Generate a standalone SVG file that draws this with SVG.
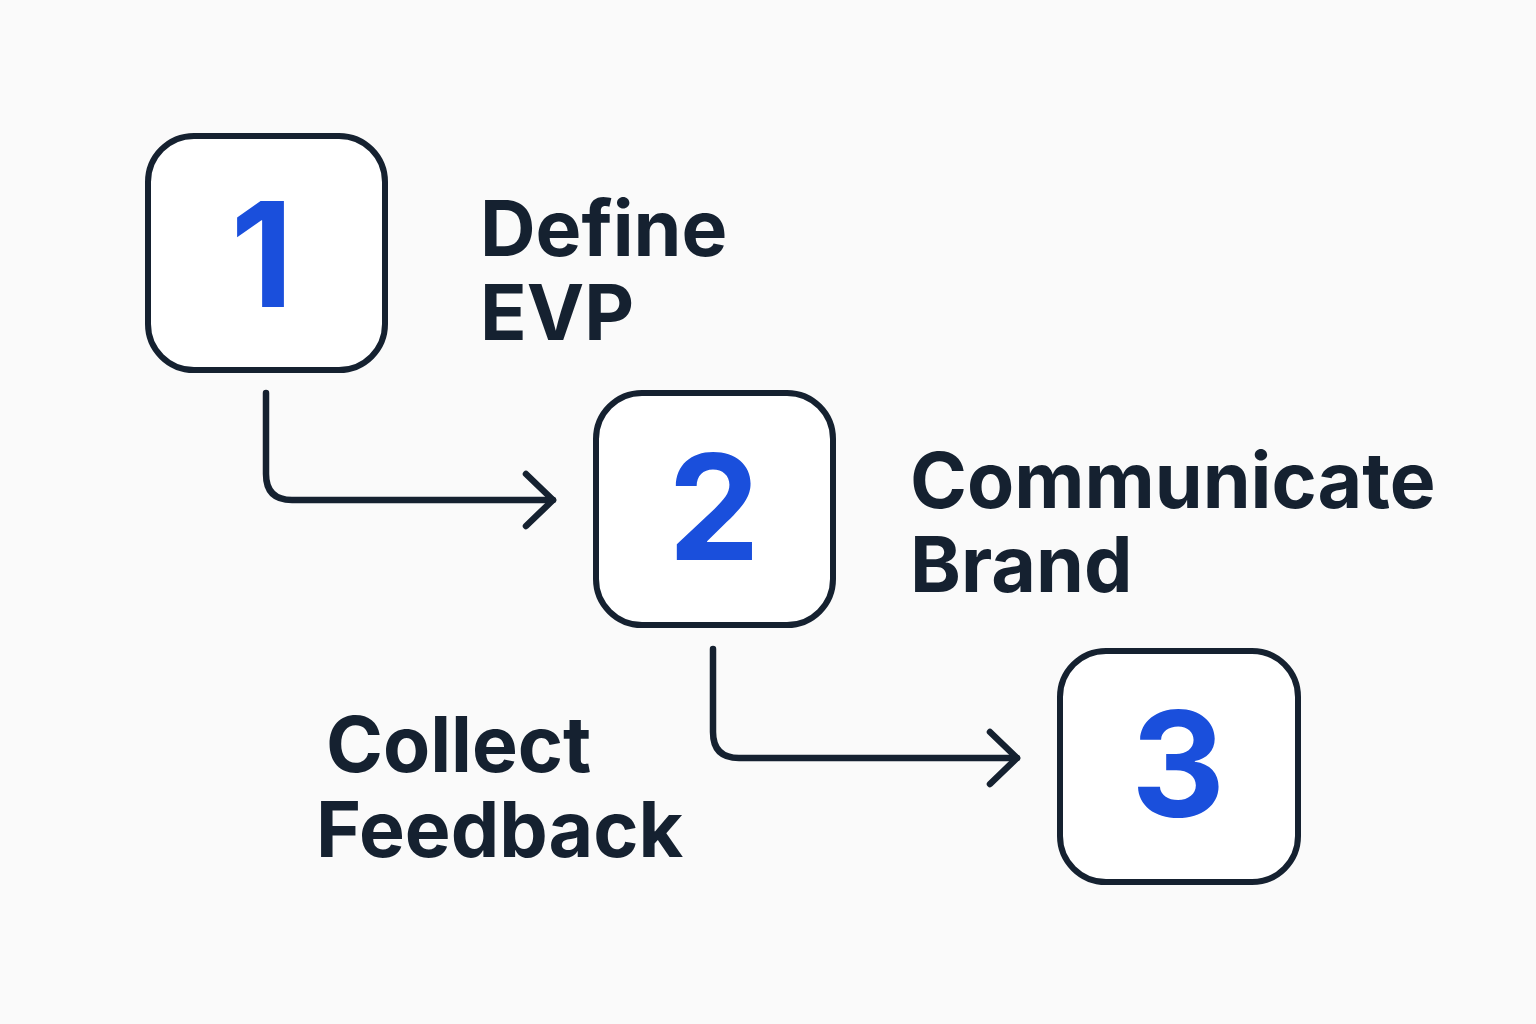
<svg xmlns="http://www.w3.org/2000/svg" width="1536" height="1024" viewBox="0 0 1536 1024">
<style>
.box{fill:#ffffff;stroke:#152130;stroke-width:6}
.num{font-family:Inter,"Liberation Sans",sans-serif;font-weight:700;font-size:146px;fill:#1a4fdc;text-anchor:middle}
.lbl{font-family:Inter,"Liberation Sans",sans-serif;font-weight:700;font-size:77px;fill:#152130}
.conn{fill:none;stroke:#152130;stroke-width:6.5;stroke-linecap:round;stroke-linejoin:round}
</style>
<rect width="1536" height="1024" fill="#fafafa"/>
<g id="node1">
<rect class="box" x="148" y="136" width="237" height="234" rx="46"/>
<text class="num" x="262" y="307">1</text>
</g>
<g id="node2">
<rect class="box" x="596" y="393" width="237" height="232" rx="46"/>
<text class="num" x="714" y="560">2</text>
</g>
<g id="node3">
<rect class="box" x="1060" y="651" width="238" height="231" rx="46"/>
<text class="num" x="1178" y="817">3</text>
</g>
<g id="label1">
<text class="lbl" x="480" y="256">Define<tspan x="480" y="340">EVP</tspan></text>
</g>
<g id="label2">
<text class="lbl" x="910" y="508">Communicate<tspan x="910" y="592">Brand</tspan></text>
</g>
<g id="label3">
<text class="lbl" x="326" y="772">Collect<tspan x="316" y="857">Feedback</tspan></text>
</g>
<g id="connectors">
<path class="conn" d="M266 393 V474 Q266 500 292 500 H553"/>
<path class="conn" d="M526 474 L553 500 L526 526"/>
<path class="conn" d="M713 649 V732 Q713 758 739 758 H1017"/>
<path class="conn" d="M990 732 L1017 758 L990 784"/>
</g>
</svg>
